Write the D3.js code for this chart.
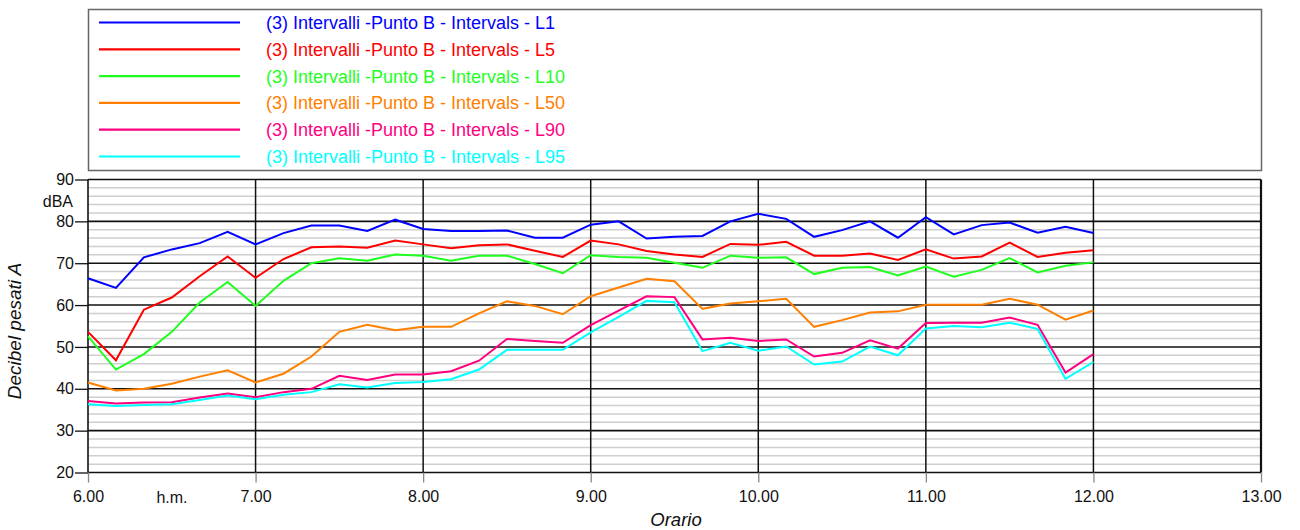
<!DOCTYPE html>
<html>
<head>
<meta charset="utf-8">
<script src="https://cdn.jsdelivr.net/npm/d3@7/dist/d3.min.js"></script>
<style>
  html, body { margin: 0; padding: 0; background: #fff; }
  svg { display: block; font-family: "Liberation Sans", Arial, sans-serif; }
</style>
</head>
<body>
<svg id="chart" width="1300" height="530"></svg>
<script>
// Sampling instants (h.mm, every 10 minutes)
const times = ["6.00","6.10","6.20","6.30","6.40","6.50","7.00","7.10","7.20","7.30","7.40","7.50",
  "8.00","8.10","8.20","8.30","8.40","8.50","9.00","9.10","9.20","9.30","9.40","9.50",
  "10.00","10.10","10.20","10.30","10.40","10.50","11.00","11.10","11.20","11.30","11.40","11.50","12.00"];

// Percentile levels, dB(A)
const L1  = [66.4,64.1,71.4,73.3,74.8,77.5,74.5,77.2,79.0,79.0,77.7,80.4,78.2,77.7,77.7,77.8,76.1,76.1,
  79.2,80.0,75.9,76.3,76.5,80.0,81.8,80.6,76.3,77.9,80.0,76.1,81.0,76.9,79.1,79.7,77.3,78.7,77.2];
const L5  = [53.6,46.8,58.9,61.8,66.9,71.6,66.5,71.0,73.8,74.0,73.7,75.4,74.5,73.6,74.3,74.5,73.0,71.5,
  75.4,74.5,72.9,72.1,71.5,74.6,74.4,75.1,71.8,71.8,72.3,70.8,73.3,71.1,71.6,74.9,71.5,72.5,73.1];
const L10 = [52.5,44.6,48.3,53.6,60.6,65.5,59.8,65.8,70.0,71.2,70.6,72.1,71.8,70.6,71.8,71.8,69.8,67.6,
  71.9,71.5,71.3,70.1,68.9,71.8,71.3,71.4,67.4,68.9,69.1,67.1,69.2,66.8,68.4,71.2,67.8,69.4,70.2];
const L50 = [41.5,39.6,40.0,41.2,42.9,44.4,41.5,43.6,47.7,53.6,55.3,54.0,54.8,54.8,58.0,60.9,59.8,57.8,
  62.1,64.2,66.3,65.7,59.1,60.4,60.9,61.5,54.8,56.4,58.2,58.5,60.1,60.1,60.1,61.5,60.1,56.5,58.7];
const L90 = [37.1,36.5,36.7,36.8,37.9,38.9,38.0,39.2,40.0,43.1,42.1,43.4,43.4,44.2,46.7,51.9,51.4,51.0,
  55.2,58.7,62.1,61.9,51.8,52.2,51.4,51.8,47.7,48.6,51.6,49.6,55.7,55.8,55.8,57.0,55.3,43.9,48.3];
const L95 = [36.3,35.9,36.1,36.3,37.3,38.4,37.5,38.6,39.2,41.1,40.3,41.4,41.6,42.3,44.6,49.3,49.3,49.3,
  53.5,57.2,61.0,60.7,49.0,51.0,49.1,50.1,45.8,46.5,50.1,48.0,54.4,55.0,54.7,55.8,54.3,42.4,46.4];

const seriesNames  = ["(3) Intervalli -Punto B - Intervals - L1","(3) Intervalli -Punto B - Intervals - L5",
  "(3) Intervalli -Punto B - Intervals - L10","(3) Intervalli -Punto B - Intervals - L50",
  "(3) Intervalli -Punto B - Intervals - L90","(3) Intervalli -Punto B - Intervals - L95"];
const seriesValues = [L1, L5, L10, L50, L90, L95];
const seriesColors = ["#0000ff","#ff0000","#1eff1e","#ff8000","#ff0080","#00ffff"];

const xTickValues = [6,7,8,9,10,11,12,13];
const yMajorTicks = [20,30,40,50,60,70,80,90];
const yMinorTicks = [22,24,26,28,32,34,36,38,42,44,46,48,52,54,56,58,62,64,66,68,72,74,76,78,82,84,86,88];

const parseTime = s => { const [h, m] = s.split(".").map(Number); return h + m / 60; };

const svg = d3.select("#chart");
const plot = { left: 88, right: 1261, top: 179.5, bottom: 472.5 };

const x = d3.scaleLinear().domain([6, 13]).range([plot.left, plot.right]);
const y = d3.scaleLinear().domain([20, 90]).range([plot.bottom, plot.top]);

// Legend box
const legend = svg.append("g");
legend.append("rect")
  .attr("x", 88.5).attr("y", 9.5).attr("width", 1173).attr("height", 161)
  .attr("fill", "#fff").attr("stroke", "#666").attr("stroke-width", 1.5);
seriesNames.forEach((name, i) => {
  const cy = 22.5 + i * 26.8;
  legend.append("line").attr("x1", 99).attr("x2", 240).attr("y1", cy).attr("y2", cy)
    .attr("stroke", seriesColors[i]).attr("stroke-width", 2.2);
  legend.append("text").attr("x", 266).attr("y", cy).attr("dy", "0.36em")
    .attr("font-size", 18).attr("fill", seriesColors[i]).text(name);
});

// Minor horizontal grid
svg.append("g").selectAll("line").data(yMinorTicks).join("line")
  .attr("x1", plot.left).attr("x2", plot.right)
  .attr("y1", d => y(d)).attr("y2", d => y(d))
  .attr("stroke", "#cfcfcf").attr("stroke-width", 1.5);

// Vertical hour grid
svg.append("g").selectAll("line").data(xTickValues.slice(1, -1)).join("line")
  .attr("x1", d => x(d)).attr("x2", d => x(d))
  .attr("y1", plot.top).attr("y2", plot.bottom)
  .attr("stroke", "#111").attr("stroke-width", 1.5);

// Major horizontal grid
svg.append("g").selectAll("line").data(yMajorTicks).join("line")
  .attr("x1", plot.left).attr("x2", plot.right)
  .attr("y1", d => y(d)).attr("y2", d => y(d))
  .attr("stroke", "#111").attr("stroke-width", 1.6);

// Plot frame sides
svg.append("line").attr("x1", plot.left).attr("x2", plot.left)
  .attr("y1", plot.top).attr("y2", plot.bottom).attr("stroke", "#111").attr("stroke-width", 1.6);
svg.append("line").attr("x1", plot.right).attr("x2", plot.right)
  .attr("y1", plot.top).attr("y2", plot.bottom).attr("stroke", "#111").attr("stroke-width", 2.2);

// Y axis
const yAxis = svg.append("g").attr("transform", `translate(${plot.left},0)`)
  .call(d3.axisLeft(y).tickValues(yMajorTicks).tickSize(13).tickFormat(d3.format("d")));
yAxis.select(".domain").remove();
yAxis.selectAll(".tick line").attr("stroke", "#111").attr("stroke-width", 1.3);
yAxis.selectAll(".tick text").attr("font-size", 16).attr("fill", "#111")
  .attr("font-family", "Liberation Sans, Arial, sans-serif").attr("x", -14);

// X axis
const xAxis = svg.append("g").attr("transform", `translate(0,${plot.bottom})`)
  .call(d3.axisBottom(x).tickValues(xTickValues).tickSize(10).tickFormat(d3.format(".2f")));
xAxis.select(".domain").remove();
xAxis.selectAll(".tick line").attr("stroke", "#888").attr("stroke-width", 1.3);
xAxis.selectAll(".tick text").attr("font-size", 16).attr("fill", "#111")
  .attr("font-family", "Liberation Sans, Arial, sans-serif").attr("y", 18);

// Axis captions
svg.append("text").attr("x", 73).attr("y", 207).attr("text-anchor", "end")
  .attr("font-size", 16).attr("fill", "#111").text("dBA");
svg.append("text").attr("x", 172).attr("y", 502.5).attr("text-anchor", "middle")
  .attr("font-size", 16).attr("fill", "#111").text("h.m.");
svg.append("text").attr("x", 676).attr("y", 526).attr("text-anchor", "middle")
  .attr("font-size", 18.5).attr("font-style", "italic").attr("fill", "#111").text("Orario");
svg.append("text").attr("transform", "translate(21,331) rotate(-90)").attr("text-anchor", "middle")
  .attr("font-size", 19).attr("font-style", "italic").attr("fill", "#111").text("Decibel pesati A");

// Series lines
const line = d3.line().x((d, i) => x(parseTime(times[i]))).y(d => y(d));
svg.append("g").selectAll("path").data(seriesValues).join("path")
  .attr("d", d => line(d))
  .attr("fill", "none")
  .attr("stroke", (d, i) => seriesColors[i])
  .attr("stroke-width", 2)
  .attr("stroke-linejoin", "miter");
</script>
</body>
</html>
